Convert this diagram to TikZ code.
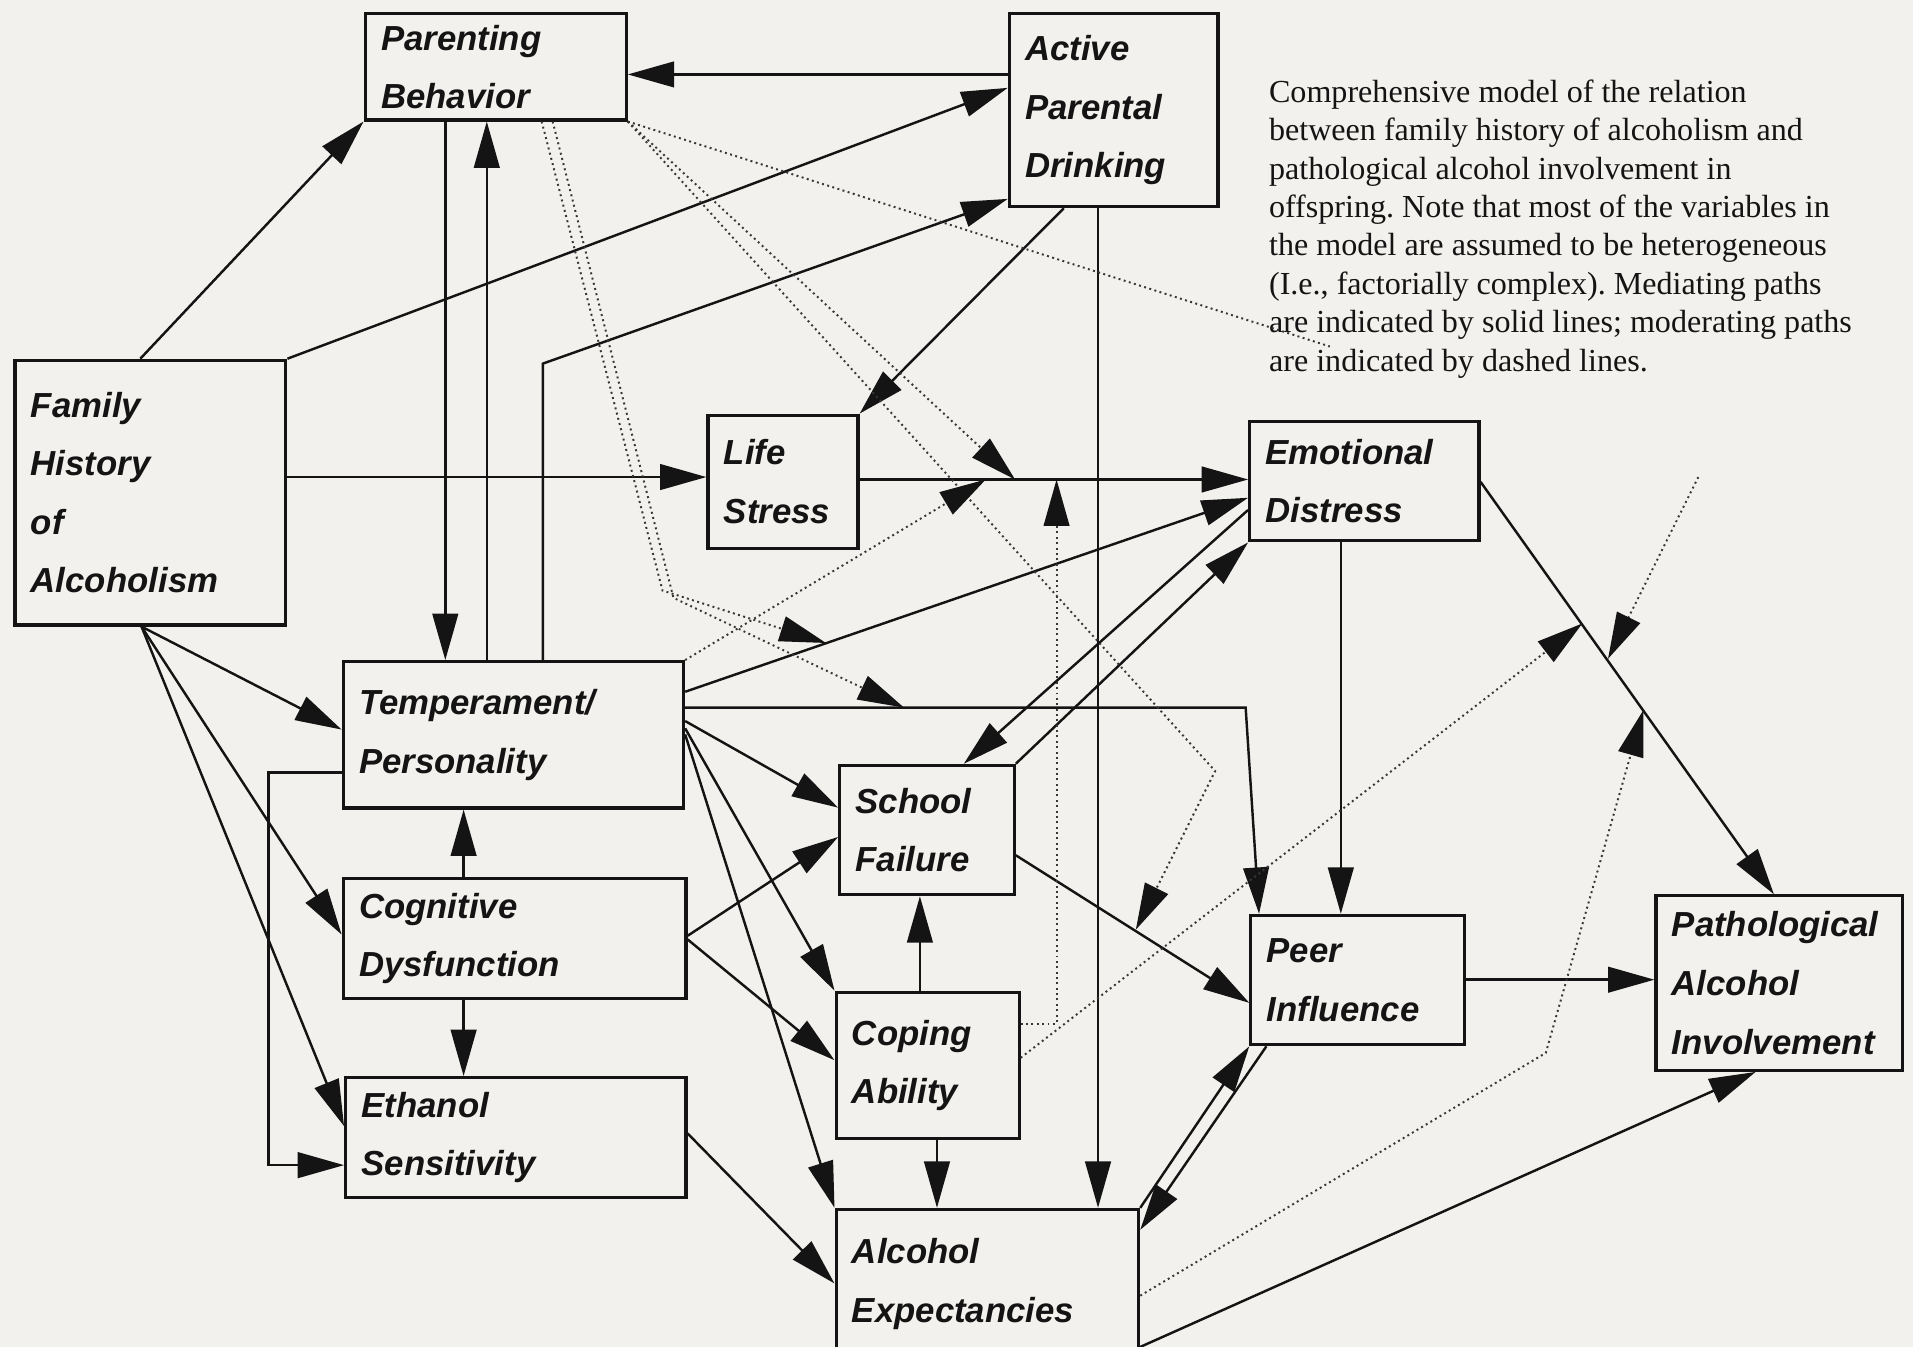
\documentclass[tikz,border=0pt]{standalone}
\usepackage{fontspec}
\setmainfont{Liberation Serif}
\newfontfamily\boxfont{Liberation Sans}
\usetikzlibrary{arrows.meta,calc}
\definecolor{paper}{RGB}{243,241,237}
\definecolor{ink}{RGB}{20,20,20}
\definecolor{dotink}{RGB}{55,55,55}
\frenchspacing
\tikzset{
  box/.style={draw=ink, line width=2.6pt, align=left, anchor=north west,
    inner xsep=13pt, inner ysep=0pt, text=ink,
    font=\boxfont\bfseries\itshape\fontsize{28.5}{48}\selectfont},
  med/.style={draw=ink, line width=2pt, line join=miter,
    -{Triangle[length=38pt,width=21pt]}},
  mod/.style={draw=dotink, line width=1.6pt, dash pattern=on 1.6pt off 2.8pt,
    -{Triangle[length=38pt,width=21pt,color=ink]}},
  modplain/.style={draw=dotink, line width=1.6pt, dash pattern=on 1.6pt off 2.8pt},
  caption/.style={anchor=north west, inner sep=0pt, align=left, text=ink,
    font=\fontsize{26.3}{31.5}\selectfont}
}
\begin{document}
\begin{tikzpicture}[x=1pt,y=-1pt]
\fill[paper] (0,0) rectangle (1568,1104);
\useasboundingbox (0,0) rectangle (1568,1104);

% ---------- boxes ----------
\node[box, text width=188pt, minimum width=214pt, minimum height=87pt] (PB) at (298,10) {Parenting\\Behavior};
\node[box, text width=145pt, minimum width=171pt, minimum height=158pt] (APD) at (826,10) {Active\\Parental\\Drinking};
\node[box, text width=196pt, minimum width=222pt, minimum height=217pt] (FH) at (11,294) {Family\\History\\of\\Alcoholism};
\node[box, text width=97pt, minimum width=123pt, minimum height=109pt] (LS) at (579,339) {Life\\Stress};
\node[box, text width=162pt, minimum width=188pt, minimum height=98pt] (ED) at (1023,344) {Emotional\\Distress};
\node[box, text width=253pt, minimum width=279pt, minimum height=120pt] (TP) at (280,541) {Temperament/\\Personality};
\node[box, text width=117pt, minimum width=143pt, minimum height=106pt] (SF) at (687,626) {School\\Failure};
\node[box, text width=255pt, minimum width=281pt, minimum height=98pt] (CD) at (280,719) {Cognitive\\Dysfunction};
\node[box, text width=124pt, minimum width=150pt, minimum height=120pt] (CA) at (684,812) {Coping\\Ability};
\node[box, text width=253pt, minimum width=279pt, minimum height=98pt] (ES) at (282,882) {Ethanol\\Sensitivity};
\node[box, text width=222pt, minimum width=248pt, minimum height=122pt] (AE) at (684,990) {Alcohol\\Expectancies};
\node[box, text width=149pt, minimum width=175pt, minimum height=106pt] (PI) at (1024,749) {Peer\\Influence};
\node[box, text width=176pt, minimum width=202pt, minimum height=143pt] (PAI) at (1356,733) {Pathological\\Alcohol\\Involvement};

\node[caption] (cap) at (1040,65) {Comprehensive model of the relation\\
between family history of alcoholism and\\
pathological alcohol involvement in\\
offspring. Note that most of the variables in\\
the model are assumed to be heterogeneous\\
(I.e., factorially complex). Mediating paths\\
are indicated by solid lines; moderating paths\\
are indicated by dashed lines.};

% ---------- helper coordinates ----------
\coordinate (m1) at (832,393);
\coordinate (m2) at (677,527);
\coordinate (m3) at (741,580);
\coordinate (m4) at (931,762);
\coordinate (m5) at (808,393);
\coordinate (m6) at (866,393);
\coordinate (m7) at (1297,511);
\coordinate (m8) at (1318,540);
\coordinate (m9) at (1347,582);
\coordinate (d1end) at (1090,284);
\coordinate (d9start) at (1392,391);

% ---------- mediating (solid) paths ----------
\draw[med] (FH.north -| 115,0) -- (PB.south west);
\draw[med] (FH.north east) -- (APD.west |- 0,72);
\draw[med] (FH.east |- 0,391) -- (LS.west |- 0,391);
\draw[med] (FH.south -| 116,0) -- (TP.west |- 0,598);
\draw[med] (FH.south -| 116,0) -- (CD.west |- 0,766);
\draw[med] (FH.south -| 116,0) -- (ES.west |- 0,923);
\draw[med] (APD.west |- 0,61) -- (PB.east |- 0,61);
\draw[med] (PB.south -| 365,0) -- (TP.north -| 365,0);
\draw[med] (TP.north -| 399,0) -- (PB.south -| 399,0);
\draw[med] (TP.north -| 445,0) -- (445,298) -- (APD.west |- 0,163);
\draw[med] (APD.south -| 872,0) -- (LS.north east);
\draw[med] (APD.south -| 900,0) -- (AE.north -| 900,0);
\draw[med] (LS.east |- 0,393) -- (ED.west |- 0,393);
\draw[med] (TP.east |- 0,567) -- (ED.west |- 0,408);
\draw[med] (TP.east |- 0,580) -- (1021,580) -- (PI.north -| 1032,0);
\draw[med] (TP.east |- 0,591) -- (SF.west |- 0,662);
\draw[med] (TP.east |- 0,597) -- (CA.north west);
\draw[med] (TP.east |- 0,602) -- (AE.north west);
\draw[med] (TP.west |- 0,633) -- (220,633) -- (220,955) -- (ES.west |- 0,955);
\draw[med] (CD.north -| 380,0) -- (TP.south -| 380,0);
\draw[med] (CD.south -| 380,0) -- (ES.north -| 380,0);
\draw[med] (CD.east |- 0,767) -- (SF.west |- 0,686);
\draw[med] (CD.east |- 0,770) -- (CA.west |- 0,869);
\draw[med] (CA.north -| 754,0) -- (SF.south -| 754,0);
\draw[med] (CA.south -| 768,0) -- (AE.north -| 768,0);
\draw[med] (ES.east |- 0,929) -- (AE.west |- 0,1052);
\draw[med] (ED.west |- 0,418) -- (SF.north -| 790,0);
\draw[med] (SF.north east) -- (ED.south west);
\draw[med] (SF.east |- 0,701) -- (PI.west |- 0,822);
\draw[med] (ED.south -| 1099,0) -- (PI.north -| 1099,0);
\draw[med] (ED.east |- 0,395) -- (PAI.north -| 1454,0);
\draw[med] (PI.east |- 0,803) -- (PAI.west |- 0,803);
\draw[med] (AE.east |- 0,1104) -- (PAI.south -| 1439,0);
\draw[med] (AE.north east) -- (PI.south west);
\draw[med] (PI.south -| 1038,0) -- (AE.east |- 0,1008);

% ---------- moderating (dotted) paths ----------
\draw[modplain] (PB.south east) -- (d1end);
\draw[mod] (PB.south east) -- (m1);
\draw[mod] (PB.south -| 444,0) -- (543,484) -- (m2);
\draw[mod] (PB.south -| 453,0) -- (552,490) -- (m3);
\draw[mod] (PB.south east) -- (996,632) -- (m4);
\draw[mod] (TP.north east) -- (m5);
\draw[mod] (CA.east |- 0,839) -- (866,839) -- (m6);
\draw[mod] (CA.east |- 0,867) -- (m7);
\draw[mod] (d9start) -- (m8);
\draw[mod] (AE.east |- 0,1062) -- (1267,863) -- (m9);
\end{tikzpicture}
\end{document}
